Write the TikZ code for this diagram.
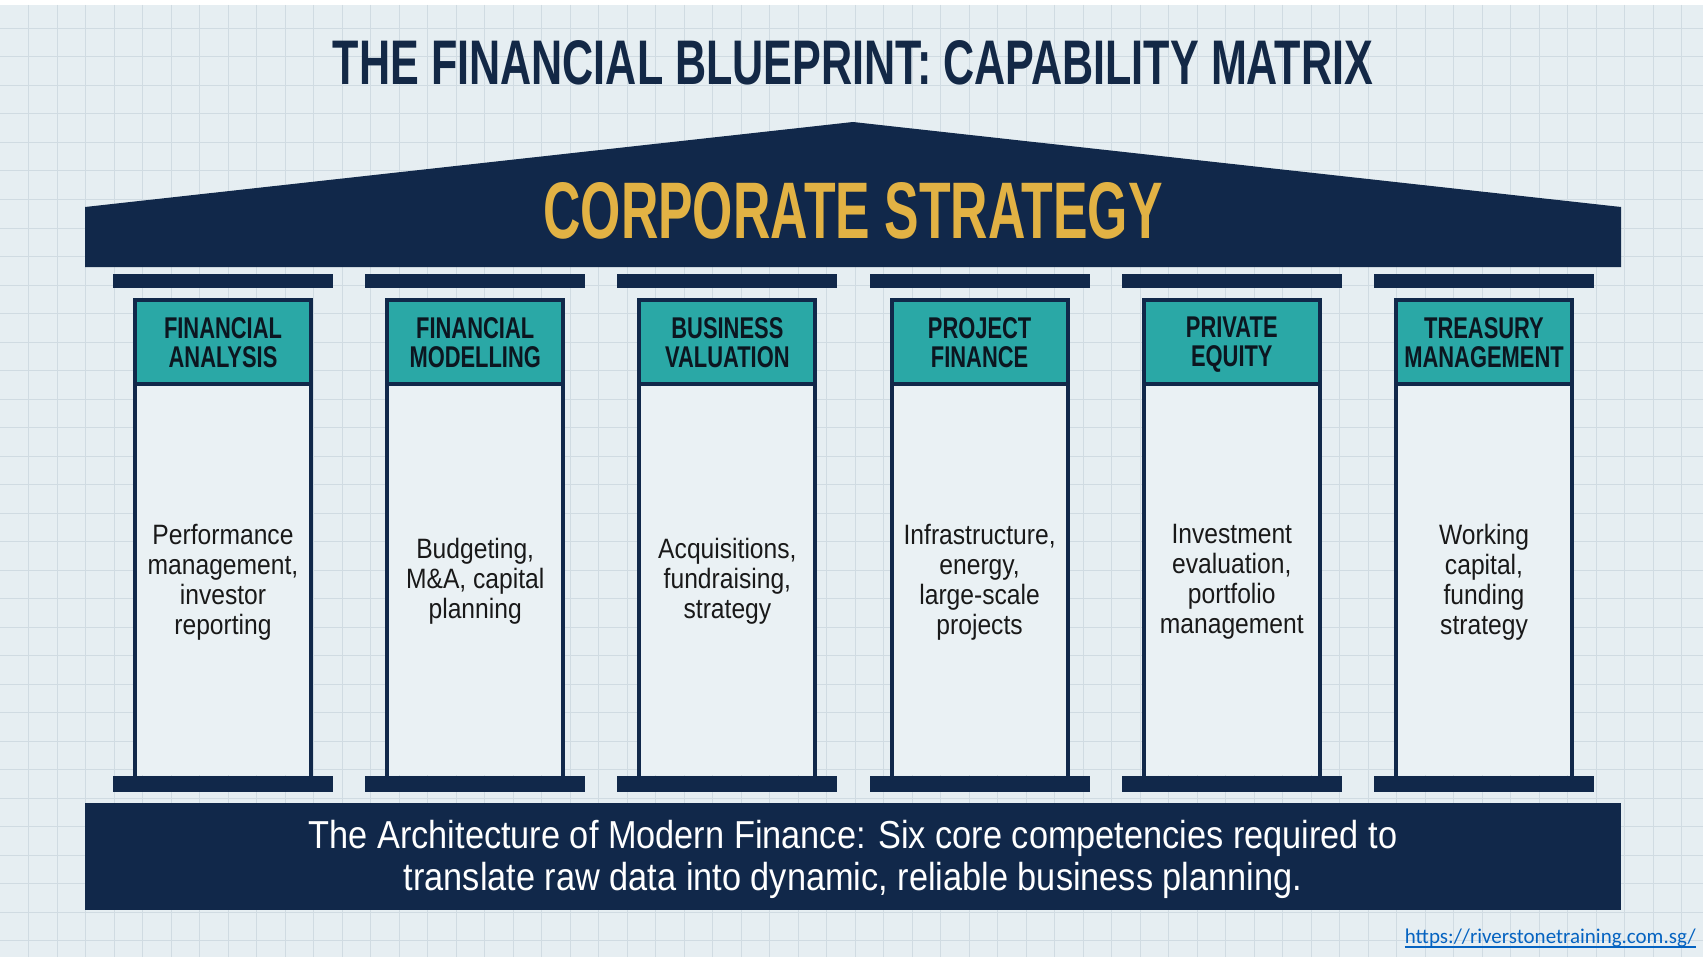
\documentclass[tikz,border=0pt]{standalone}
\usepackage{fontspec}
\usepackage{graphicx}
\setmainfont{Liberation Sans}
\newfontfamily\condfont[FakeStretch=0.88]{Liberation Sans}
\newfontfamily\headfont[FakeStretch=0.73]{Liberation Sans}
\newfontfamily\urlfont{Carlito}
\definecolor{bgc}{RGB}{230,238,242}
\definecolor{gridc}{RGB}{208,219,226}
\definecolor{navy}{RGB}{17,40,74}
\definecolor{hdteal}{RGB}{42,168,166}
\definecolor{gold}{RGB}{226,178,68}
\definecolor{colbody}{RGB}{234,241,244}
\definecolor{urlblue}{RGB}{5,99,193}
\definecolor{titlec}{RGB}{19,40,70}
\definecolor{headtext}{RGB}{12,22,32}
\definecolor{bodytext}{RGB}{25,25,25}
\tikzset{
  headlabel/.style={inner sep=0pt, anchor=north, align=center, text=headtext,
    font=\headfont\bfseries\fontsize{30}{29}\selectfont},
  bodylabel/.style={inner sep=0pt, align=center, text=bodytext,
    font=\condfont\fontsize{28}{30}\selectfont},
  bannerlabel/.style={inner sep=0pt, anchor=base, text=white,
    font=\condfont\fontsize{39}{42}\selectfont},
  navyfill/.style={fill=navy, draw=none},
  colborder/.style={draw=navy, line width=4pt}
}
\begin{document}
\begin{tikzpicture}[x=1pt,y=-1pt]
\useasboundingbox (0,0) rectangle (1707,960);
\fill[white] (0,0) rectangle (1707,960);
\fill[bgc] (0,5) rectangle (1703,957);
% grid
\foreach \i in {1,...,59}{\draw[gridc, line width=1pt] (\i*28.5,5) -- (\i*28.5,957);}
\foreach \j in {1,...,33}{\draw[gridc, line width=1pt] (0,\j*28.5) -- (1703,\j*28.5);}
% title
\node[inner sep=0pt, text=titlec] (title) at (853,63)
  {\resizebox{1040pt}{44pt}{\bfseries THE FINANCIAL BLUEPRINT: CAPABILITY MATRIX}};
% roof
\fill[navyfill] (85,267) -- (85,207) -- (853,122) -- (1621,207) -- (1621,267) -- cycle;
\node[inner sep=0pt, text=gold] (strategy) at (853,211)
  {\resizebox{619pt}{56pt}{\bfseries CORPORATE STRATEGY}};
% columns
\foreach \i in {0,...,5}{
  \pgfmathsetmacro\c{223+252.2*\i}
  \fill[navyfill] (\c-110,274) rectangle (\c+110,288);
  \fill[colbody] (\c-88,384) rectangle (\c+88,775);
  \fill[hdteal] (\c-88,300) rectangle (\c+88,384);
  \draw[colborder] (\c-88,384) -- (\c+88,384);
  \draw[colborder] (\c-88,776) -- (\c-88,300) -- (\c+88,300) -- (\c+88,776);
  \fill[navyfill] (\c-110,776) rectangle (\c+110,792);
}
% headers
\node[headlabel] (h1) at (223,317)    {FINANCIAL\\ANALYSIS};
\node[headlabel] (h2) at (475.2,317)  {FINANCIAL\\MODELLING};
\node[headlabel] (h3) at (727.4,317)  {BUSINESS\\VALUATION};
\node[headlabel] (h4) at (979.6,317)  {PROJECT\\FINANCE};
\node[headlabel] (h5) at (1231.8,317) {PRIVATE\\EQUITY};
\node[headlabel] (h6) at (1484,317)   {TREASURY\\MANAGEMENT};
% bodies
\node[bodylabel] (b1) at (223,582)    {Performance\\management,\\investor\\reporting};
\node[bodylabel] (b2) at (475.2,581)  {Budgeting,\\M\&A, capital\\planning};
\node[bodylabel] (b3) at (727.4,581)  {Acquisitions,\\fundraising,\\strategy};
\node[bodylabel] (b4) at (979.6,582)  {Infrastructure,\\energy,\\large-scale\\projects};
\node[bodylabel] (b5) at (1231.8,582) {Investment\\evaluation,\\portfolio\\management};
\node[bodylabel] (b6) at (1484,582)   {Working\\capital,\\funding\\strategy};
% banner
\fill[navyfill] (85,803) rectangle (1621,910);
\node[bannerlabel] (line1) at (853,848) {The Architecture of Modern Finance: Six core competencies required to};
\node[bannerlabel] (line2) at (853,890) {translate raw data into dynamic, reliable business planning.};
% url
\node[inner sep=0pt, anchor=base east, text=urlblue, font=\urlfont\fontsize{21}{24}\selectfont] (url) at (1696,943) {https://riverstonetraining.com.sg/};
\draw[urlblue, line width=1.3pt] ([yshift=-4pt]url.base west) -- ([yshift=-4pt]url.base east);
\end{tikzpicture}
\end{document}
